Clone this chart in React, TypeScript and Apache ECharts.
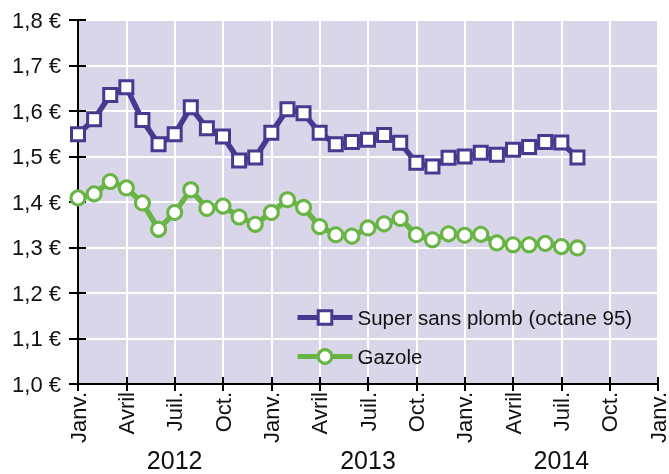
import React, { useEffect, useRef } from "react";
import * as echarts from "echarts";

const monthLabels = ["Janv.", "Avril", "Juil.", "Oct."];
const years = ["2012", "2013", "2014"];
const yTicks = [1.0, 1.1, 1.2, 1.3, 1.4, 1.5, 1.6, 1.7, 1.8];

const seriesNames = ["Super sans plomb (octane 95)", "Gazole"];

// Monthly values, Jan 2012 .. Aug 2014
const superSP95 = [
  1.549, 1.582, 1.635, 1.652, 1.58, 1.527, 1.549, 1.608, 1.562, 1.544, 1.491, 1.498,
  1.552, 1.604, 1.595, 1.552, 1.527, 1.532, 1.537, 1.547, 1.53, 1.486, 1.478, 1.497,
  1.5, 1.508, 1.504, 1.515, 1.521, 1.532, 1.531, 1.498,
];
const gazole = [
  1.409, 1.418, 1.445, 1.431, 1.398, 1.34, 1.377, 1.427, 1.386, 1.391, 1.367, 1.351,
  1.377, 1.405, 1.388, 1.346, 1.328, 1.325, 1.343, 1.352, 1.364, 1.328, 1.317, 1.33,
  1.327, 1.329, 1.31, 1.306, 1.306, 1.309, 1.302, 1.299,
];

const PURPLE = "#47398f";
const GREEN = "#68b545";
const FONT = "'Liberation Sans', Arial, sans-serif";

export default function App() {
  const ref = useRef<HTMLDivElement>(null);
  useEffect(() => {
    if (!ref.current) return;
    const chart = echarts.init(ref.current, undefined, { renderer: "svg" });
    const toPairs = (arr: number[]) => arr.map((v, i) => [i, v]);
    const yMin = yTicks[0];
    const yMax = yTicks[yTicks.length - 1];
    const axisLine = { show: true, lineStyle: { color: "#000", width: 2 } };
    const mkSeries = (name: string, data: number[], color: string, symbol: string, size: number) => ({
      name,
      type: "line",
      data: toPairs(data),
      color,
      symbol,
      symbolSize: size,
      lineStyle: { color, width: 5.5, type: "solid" },
      itemStyle: { color: "#fff", borderColor: color, borderWidth: 3 },
      emphasis: { disabled: true },
      z: 3,
    });
    chart.setOption({
      animation: false,
      textStyle: { fontFamily: FONT },
      grid: {
        left: 78,
        right: 9,
        top: 20,
        bottom: 90,
        show: true,
        backgroundColor: "#d9d6ea",
        borderWidth: 0,
      },
      legend: {
        orient: "vertical",
        left: 290,
        top: 302,
        itemWidth: 55,
        itemHeight: 17,
        itemGap: 18,
        lineStyle: { width: 5 },
        itemStyle: { borderWidth: 3 },
        textStyle: { fontSize: 20.5, color: "#111", fontFamily: FONT, lineHeight: 21 },
        data: seriesNames,
      },
      xAxis: [
        {
          type: "value",
          position: "bottom",
          min: 0,
          max: 36,
          interval: 3,
          axisLine,
          axisTick: { show: true, length: 7, lineStyle: { color: "#000", width: 2 } },
          splitLine: { show: true, lineStyle: { color: "#fff", width: 2 } },
          axisLabel: {
            rotate: 90,
            margin: 8,
            fontSize: 22,
            color: "#111",
            fontFamily: FONT,
            formatter: (v: number) => monthLabels[Math.round(v / 3) % 4],
          },
        },
        {
          type: "value",
          position: "bottom",
          min: 0,
          max: 36,
          interval: 3,
          axisLine,
          axisTick: { show: true, inside: true, length: 7, lineStyle: { color: "#000", width: 2 } },
          splitLine: { show: false },
          axisLabel: { show: false },
        },
        {
          type: "value",
          position: "bottom",
          min: 0,
          max: 36,
          axisLine: { show: false },
          axisTick: { show: false },
          splitLine: { show: false },
          axisLabel: {
            show: true,
            customValues: [6, 18, 30],
            margin: 63,
            fontSize: 25,
            color: "#111",
            fontFamily: FONT,
            formatter: (v: number) => years[Math.round((v - 6) / 12)],
          },
        },
      ],
      yAxis: [
        {
          type: "value",
          position: "left",
          min: yMin,
          max: yMax,
          interval: 0.1,
          axisLine,
          axisTick: { show: true, length: 9, lineStyle: { color: "#000", width: 2 } },
          splitLine: { show: true, lineStyle: { color: "#fff", width: 2 } },
          axisLabel: {
            margin: 17,
            fontSize: 22,
            color: "#111",
            fontFamily: FONT,
            formatter: (v: number) => v.toFixed(1).replace(".", ",") + " €",
          },
        },
        {
          type: "value",
          position: "left",
          min: yMin,
          max: yMax,
          interval: 0.1,
          axisLine,
          axisTick: { show: true, inside: true, length: 8, lineStyle: { color: "#000", width: 2 } },
          splitLine: { show: false },
          axisLabel: { show: false },
        },
      ],
      series: [
        mkSeries(seriesNames[0], superSP95, PURPLE, "rect", 13),
        mkSeries(seriesNames[1], gazole, GREEN, "circle", 14),
      ],
    });
    return () => chart.dispose();
  }, []);
  return (
    <div
      ref={ref}
      style={{ position: "fixed", left: 0, top: 0, width: 669, height: 474 }}
    />
  );
}
